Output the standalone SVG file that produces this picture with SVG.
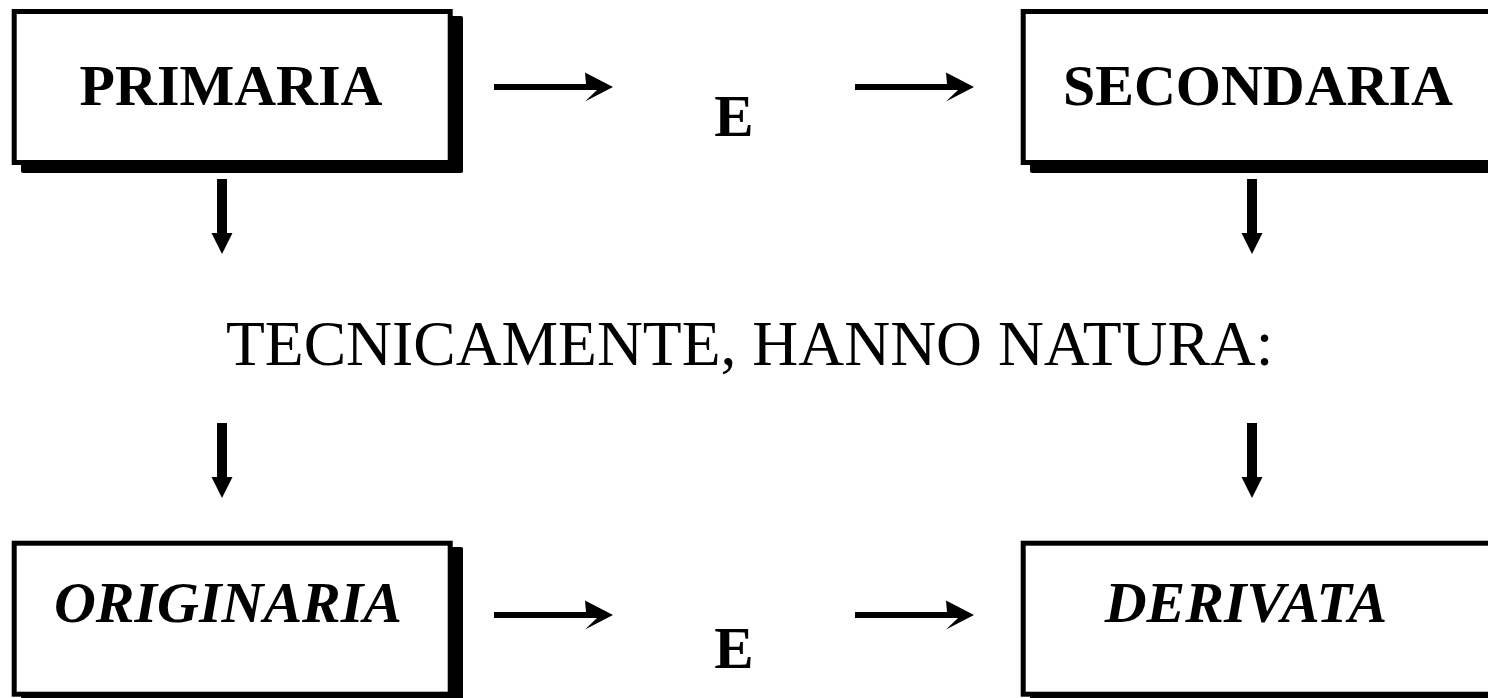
<svg xmlns="http://www.w3.org/2000/svg" width="1488" height="698" viewBox="0 0 1488 698">
<style>
.shadow{fill:#000}
.box{fill:#fff;stroke:#000;stroke-width:5}
.lbl{font-family:"Liberation Serif","Times New Roman",serif;font-weight:bold;font-size:58px;fill:#000;text-anchor:middle}
.it{font-style:italic}
.mid{font-family:"Liberation Serif","Times New Roman",serif;font-size:63.6px;fill:#000}
.e{font-family:"Liberation Serif","Times New Roman",serif;font-weight:bold;font-size:59px;fill:#000;text-anchor:middle}
.arr{fill:#000}
</style>
<defs>
<path id="harr" d="M0,-3 L92,-3 L91,-14.5 L119,0 L91,14.5 L103,3 L0,3 Z"/>
<path id="varr" d="M-5,0 L5,0 L5,54 L10.5,54 L0,75 L-10.5,54 L-5,54 Z"/>
</defs>
<rect width="1488" height="698" fill="#fff"/>

<g id="primaria">
<rect class="shadow" x="21" y="16" width="442" height="157" rx="2"/>
<rect class="box" x="14.2" y="11.5" width="436" height="151"/>
<text class="lbl" x="231" y="105">PRIMARIA</text>
</g>

<g id="secondaria">
<rect class="shadow" x="1030" y="16" width="480" height="157" rx="2"/>
<rect class="box" x="1023.2" y="11.5" width="480" height="151"/>
<text class="lbl" x="1258" y="105">SECONDARIA</text>
</g>

<g id="originaria">
<rect class="shadow" x="21" y="547" width="442" height="160" rx="2"/>
<rect class="box" x="14.2" y="543.2" width="436" height="151"/>
<text class="lbl it" x="228" y="622">ORIGINARIA</text>
</g>

<g id="derivata">
<rect class="shadow" x="1030" y="547" width="480" height="160" rx="2"/>
<rect class="box" x="1023.2" y="543.2" width="480" height="151"/>
<text class="lbl it" x="1246" y="622">DERIVATA</text>
</g>

<g id="middle-text">
<text class="mid" x="226" y="365">TECNICAMENTE, HANNO NATURA:</text>
</g>

<g id="e-top"><text class="e" x="734" y="136">E</text></g>
<g id="e-bottom"><text class="e" x="734" y="668">E</text></g>

<g id="connectors" class="arr">
<use href="#harr" x="494" y="87"/>
<use href="#harr" x="855" y="87"/>
<use href="#harr" x="494" y="615"/>
<use href="#harr" x="855" y="615"/>
<use href="#varr" x="222" y="179"/>
<use href="#varr" x="1252" y="179"/>
<use href="#varr" x="222" y="423"/>
<use href="#varr" x="1252" y="423"/>
</g>
</svg>
